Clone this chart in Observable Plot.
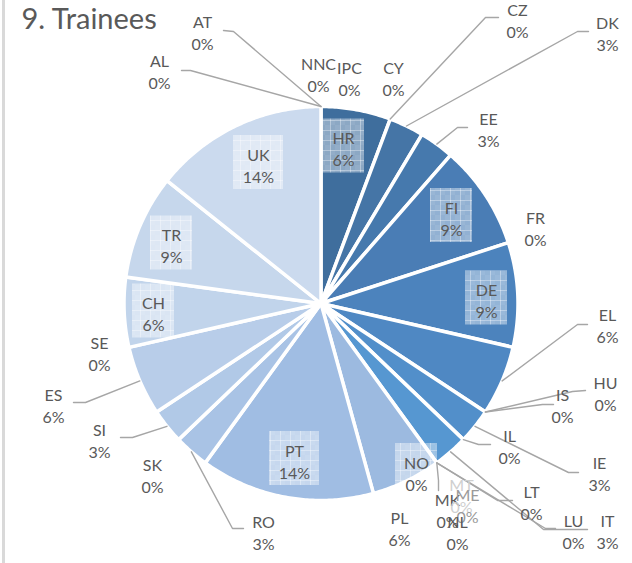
<!DOCTYPE html>
<html><head><meta charset="utf-8">
<script src="https://cdn.jsdelivr.net/npm/d3@7"></script>
<script src="https://cdn.jsdelivr.net/npm/@observablehq/plot@0.6"></script>
<style>
html,body{margin:0;padding:0;background:#fff;}
#wrap{position:relative;width:632px;height:563px;overflow:hidden;}
#edge{position:absolute;left:2px;top:0;width:3px;height:563px;background:#d9d9d9;}
#wrap svg{position:absolute;left:0;top:0;}
</style></head><body><div id="wrap"><div id="edge"></div></div>
<script>
// ---------- data ----------
const title = "9. Trainees";
const countries = ["AL","AT","HR","CY","CZ","DK","EE","FI","FR","DE","EL","HU","IS","IE","IL","IT","LT","LU","MK","MT","ME","NL","NO","PL","PT","RO","SK","SI","ES","SE","CH","TR","UK","IPC","NNC"];
const trainees  = [0,0,2,0,0,1,1,3,0,3,2,0,0,1,0,1,0,0,0,0,0,0,0,2,5,1,0,1,2,0,2,3,5,0,0];
const sliceColors = ["#3b6795","#3c6997","#3f6e9d","#4271a1","#4373a3","#4575a6","#4679ad","#4a7db5","#4b80b9","#4c83bd","#4f88c3","#5089c5","#518bc7","#528fca","#5493cd","#5697d1","#5a9ad3","#6aa4d8","#78acdb","#85b3de","#8fb7df","#95b8e0","#99b9e0","#9cbae0","#a0bde3","#a9c3e5","#adc6e6","#b1c9e7","#b8cde9","#bcd0ea","#c1d4eb","#c6d7ec","#cbdaee","#cfddef","#d3e0f0"];
const insideLabels = ["HR","FI","DE","UK","TR","CH","PT","NO"];

// ---------- layout (pixels in the 632x563 frame) ----------
const CX = 320.5, CY = 303, RPX = 197, W = 632, H = 563;
const labelAt = {
  HR:[343,147.5], FI:[451,217], DE:[486,299.5], UK:[258,164], TR:[171,244.5], CH:[153,312.5], PT:[294,460], NO:[416,472],
  AT:[202,31], AL:[159,70.5], NNC:[318,73], IPC:[349,77.5], CY:[393,77.5], CZ:[517,19], DK:[607,32], EE:[488,128],
  FR:[535,227], EL:[607,324.5], HU:[605,392.5], IS:[562,404.5], IL:[509,445], IE:[599,472.5], LT:[531,501.5],
  LU:[573,530], IT:[607,530], MK:[447,509], MT:[461,494], ME:[467,504], NL:[457,531], PL:[399,527.5],
  RO:[263,531.5], SK:[152,474], SI:[99,439], ES:[53,404], SE:[99,352.5]
};
const boxW = {UK:50, PT:50};
const fadedLabels = {MT:"#cfcfcf", ME:"#9a9a9a"};
const leaderStart = {
  AT:[[223,30],[233,31]], AL:[[181,70],[190,70]], CZ:[[498,17],[485,17]], DK:[[588,31],[577,31]],
  EE:[[467,127],[457,127]], EL:[[587,324],[577,324]], HU:[[585,390],[572,391]], IS:[[553,404],[542,404]],
  IL:[[490,444],[478,444]], IE:[[578,472],[568,472]], LT:[[512,500],[497,500]], LU:[[555,528],[545,528]],
  IT:[[587,529],[543,529]], MK:[[438,490],[438,480]], RO:[[243,528],[232,528]], SI:[[120,437],[132,437]],
  ES:[[73,402],[85,402]]
};

// ---------- build ----------
const toX = px => (px - CX) / RPX;
const toY = py => (CY - py) / RPX;
const rows = countries.map((c, i) => ({c, v: trainees[i]}));
const total = d3.sum(trainees);
const pct = d3.format(".0%");
const arcs = d3.pie().value(d => d.v).sort(null)(rows);
const arcOf = new Map(arcs.map(a => [a.data.c, a]));

const slicePts = arcs.filter(a => a.data.v > 0).flatMap(a => {
  const pts = [{c: a.data.c, x: 0, y: 0}];
  const n = Math.ceil((a.endAngle - a.startAngle) / 0.01);
  for (let i = 0; i <= n; i++) {
    const t = a.startAngle + (a.endAngle - a.startAngle) * i / n;
    pts.push({c: a.data.c, x: Math.sin(t), y: Math.cos(t)});
  }
  return pts;
});

const labels = rows.map(d => ({
  c: d.c,
  x: toX(labelAt[d.c][0]), y: toY(labelAt[d.c][1]),
  text: d.c + "\n" + pct(d.v / total),
  fill: fadedLabels[d.c] || "#595959"
}));
const boxes = labels.filter(d => insideLabels.includes(d.c)).map(d => {
  const w = (boxW[d.c] || 42) / RPX, h = 54 / RPX;
  return {c: d.c, x1: d.x - w / 2, x2: d.x + w / 2, y1: d.y - h / 2 + 2 / RPX, y2: d.y + h / 2 + 2 / RPX};
});
const leaders = Object.entries(leaderStart).flatMap(([c, pts]) => {
  const a = arcOf.get(c);
  const ang = a.data.v > 0 ? (a.startAngle + a.endAngle) / 2 : a.startAngle;
  return [...pts.map(p => ({c, x: toX(p[0]), y: toY(p[1])})), {c, x: Math.sin(ang), y: Math.cos(ang)}];
});

const chart = Plot.plot({
  width: W, height: H,
  marginTop: 0, marginRight: 0, marginBottom: 0, marginLeft: 0,
  x: {domain: [toX(0), toX(W)], axis: null},
  y: {domain: [toY(H), toY(0)], axis: null},
  color: {domain: countries, range: sliceColors, type: "ordinal"},
  style: {fontFamily: "Lato, 'Open Sans', sans-serif", background: "transparent", overflow: "visible"},
  marks: [
    Plot.line(slicePts, {x: "x", y: "y", z: "c", fill: "c", stroke: "white", strokeWidth: 3.5, curve: "linear-closed", strokeLinejoin: "round"}),
    Plot.rect(boxes, {x1: "x1", x2: "x2", y1: "y1", y2: "y2", fill: "url(#lblgrid)"}),
    Plot.line(leaders, {x: "x", y: "y", z: "c", stroke: "#a6a6a6", strokeWidth: 1.4}),
    Plot.text(labels, {x: "x", y: "y", text: "text", fill: "fill", fontSize: 16, lineHeight: 1.38, textAnchor: "middle", lineAnchor: "middle"}),
    Plot.text([title], {frameAnchor: "top-left", dx: 21, dy: 8, textAnchor: "start", lineAnchor: "top", fontSize: 29, fill: "#595959"})
  ]
});

const ns = "http://www.w3.org/2000/svg";
const defs = document.createElementNS(ns, "defs");
defs.innerHTML = `<pattern id="lblgrid" width="10" height="10" patternUnits="userSpaceOnUse">
  <rect width="10" height="10" fill="white" fill-opacity="0.40"/>
  <rect x="0" y="0" width="5" height="5" fill="white" fill-opacity="0.06"/>
  <rect x="5" y="5" width="5" height="5" fill="white" fill-opacity="0.06"/>
  <path d="M0 0.5H10M0.5 0V10" stroke="white" stroke-opacity="0.35" stroke-width="1"/>
</pattern>`;
chart.insertBefore(defs, chart.firstChild);
document.getElementById("wrap").appendChild(chart);
</script></body></html>
